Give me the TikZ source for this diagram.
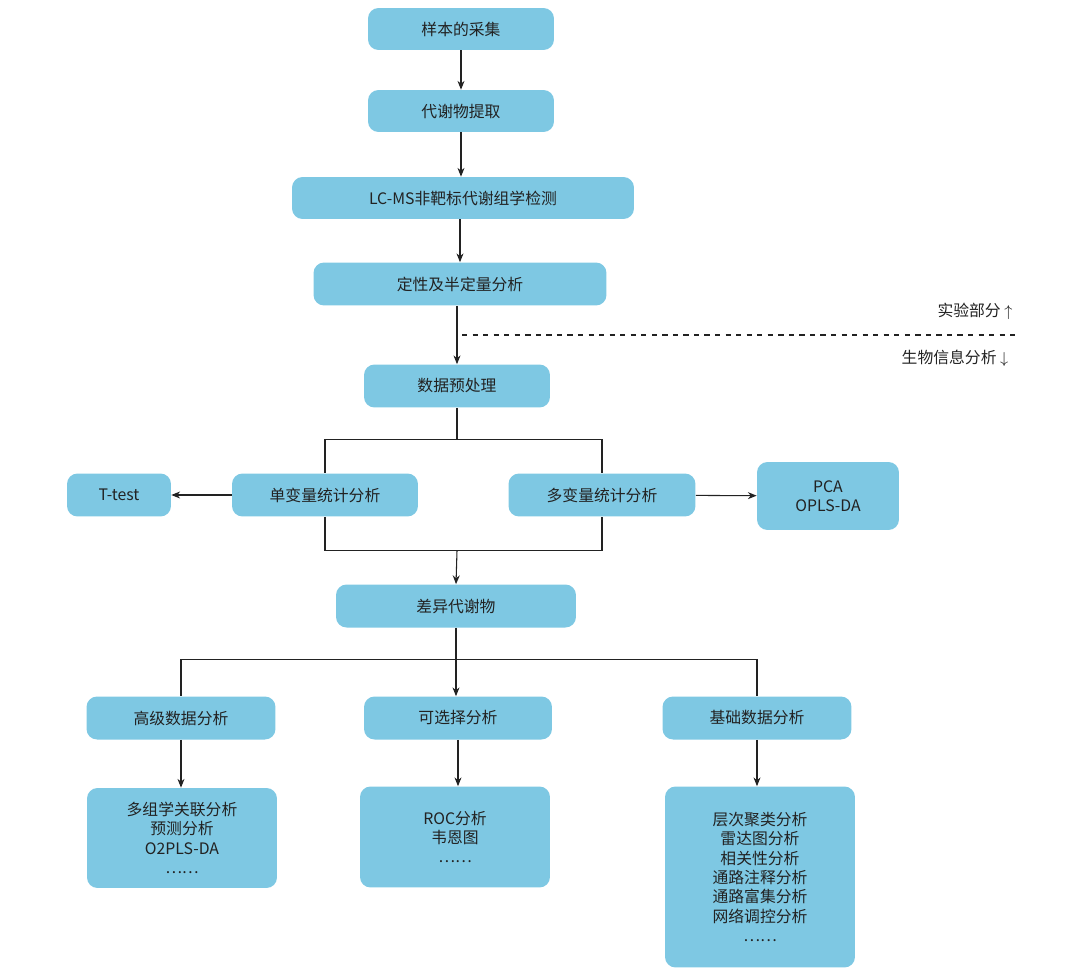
\documentclass[tikz,border=0pt]{standalone}
\usepackage{fontspec}
\setmainfont{Noto Sans CJK SC}
\usetikzlibrary{positioning, arrows.meta}
\definecolor{boxblue}{HTML}{7EC8E3}
\definecolor{txt}{HTML}{222222}
\begin{document}
\begin{tikzpicture}[x=0.02cm, y=-0.02cm]
    \tikzset{stage/.style={rectangle, rounded corners=6pt, fill=boxblue, text=txt, inner sep=0pt, font=\fontsize{9}{11}\selectfont, align=center}}
    \tikzset{flow/.style={-{Stealth[length=5pt, width=4pt]}, draw=txt, line width=0.6pt}}
    \tikzset{link/.style={draw=txt, line width=0.6pt}}
    \useasboundingbox (0,0) rectangle (1080,974);
    % Experimental part
    \node[stage, minimum width=3.72cm, minimum height=0.84cm] (collect) at (461,29) {样本的采集};
    \node[stage, minimum width=3.72cm, minimum height=0.84cm] (extract) at (461,111) {代谢物提取};
    \node[stage, minimum width=6.84cm, minimum height=0.84cm] (lcms) at (463,198) {LC-MS非靶标代谢组学检测};
    \node[stage, minimum width=5.86cm, minimum height=0.86cm] (quant) at (460,284) {定性及半定量分析};
    % Bioinformatics part
    \node[stage, minimum width=3.72cm, minimum height=0.86cm] (prep) at (457,386) {数据预处理};
    \node[stage, minimum width=3.72cm, minimum height=0.86cm] (uni) at (325,495) {单变量统计分析};
    \node[stage, minimum width=3.74cm, minimum height=0.86cm] (multi) at (602,495) {多变量统计分析};
    \node[stage, minimum width=2.08cm, minimum height=0.86cm] (ttest) at (119,495) {T-test};
    \node[stage, minimum width=2.84cm, minimum height=1.36cm] (pca) at (828,496) {PCA\\OPLS-DA};
    \node[stage, minimum width=4.8cm, minimum height=0.86cm] (diff) at (456,606) {差异代谢物};
    \node[stage, minimum width=3.78cm, minimum height=0.86cm] (adv) at (181,718) {高级数据分析};
    \node[stage, minimum width=3.76cm, minimum height=0.86cm] (opt) at (458,718) {可选择分析};
    \node[stage, minimum width=3.78cm, minimum height=0.86cm] (basic) at (757,718) {基础数据分析};
    \node[stage, minimum width=3.8cm, minimum height=2cm] (advlist) at (182,838) {多组学关联分析\\预测分析\\O2PLS-DA\\……};
    \node[stage, minimum width=3.8cm, minimum height=2.02cm] (optlist) at (455,837) {ROC分析\\韦恩图\\……};
    \node[stage, minimum width=3.8cm, minimum height=3.62cm] (basiclist) at (760,877) {层次聚类分析\\雷达图分析\\相关性分析\\通路注释分析\\通路富集分析\\网络调控分析\\……};
    % Divider
    \coordinate (dashL) at (462,335);
    \coordinate (dashR) at (1015,335);
    \draw[dashed, draw=txt, line width=0.6pt] (dashL) -- (dashR);
    \node[font=\fontsize{9}{11}\selectfont, text=txt] (up) at (975,311) {实验部分 $\uparrow$};
    \node[font=\fontsize{9}{11}\selectfont, text=txt] (down) at (955,358) {生物信息分析 $\downarrow$};
    % Connectors
    \draw[flow] (collect) -- (extract);
    \draw[flow] (extract) -- (extract |- lcms.north);
    \draw[flow] (lcms.south -| quant.north) -- (quant);
    \draw[flow] (quant.south -| prep.north) -- (prep);
    \draw[link] (prep.south) -- ++(0,32) -| (uni.north);
    \draw[link] (prep.south) ++(0,32) -| (multi.north);
    \draw[link] (uni.south) -- ++(0,34) -| (multi.south);
    \draw[flow] (prep.south |- 0,551) -- (diff.north);
    \draw[flow] (uni) -- (ttest);
    \draw[flow] (multi) -- (pca);
    \draw[link] (diff.south) -- ++(0,32) -| (adv.north);
    \draw[link] (diff.south) ++(0,32) -| (basic.north);
    \draw[flow] (diff.south) -- (diff.south |- opt.north);
    \draw[flow] (adv) -- (adv |- advlist.north);
    \draw[flow] (opt) -- (opt |- optlist.north);
    \draw[flow] (basic) -- (basic |- basiclist.north);
\end{tikzpicture}
\end{document}
